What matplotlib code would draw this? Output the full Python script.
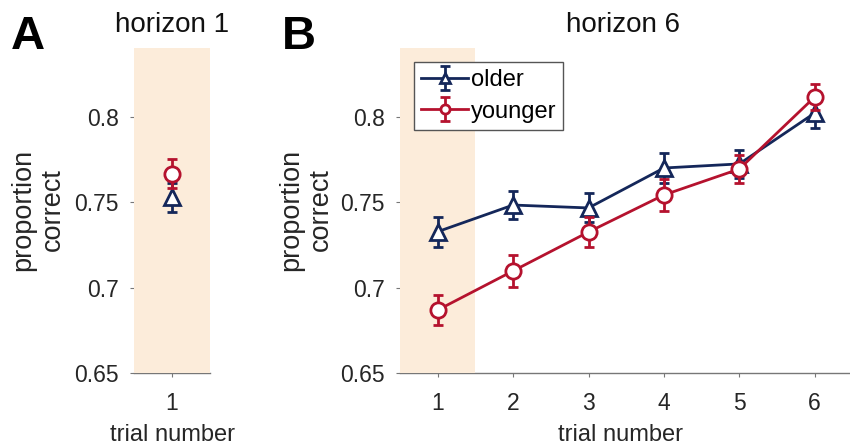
import matplotlib
matplotlib.use("Agg")
import matplotlib.pyplot as plt

plt.rcParams['font.family'] = ['Liberation Sans', 'DejaVu Sans']

# ---- data ----
h1_trials = [1]
h1_older = [0.7531]
h1_older_err = [0.0085]
h1_younger = [0.7666]
h1_younger_err = [0.0085]

h6_trials = [1, 2, 3, 4, 5, 6]
h6_older = [0.7328, 0.7484, 0.7467, 0.7701, 0.7725, 0.8023]
h6_older_err = [0.0088, 0.0082, 0.0085, 0.0085, 0.0080, 0.0086]
h6_younger = [0.6869, 0.7098, 0.7326, 0.7543, 0.7695, 0.8117]
h6_younger_err = [0.0086, 0.0092, 0.0088, 0.0095, 0.0082, 0.0078]

yticks = [0.65, 0.7, 0.75, 0.8]
ytick_labels = ['0.65', '0.7', '0.75', '0.8']

OLDER = '#14275a'
YOUNGER = '#b5122e'
SHADE = '#fcecda'
GRAY = '#555555'

W, H = 850, 448
fig = plt.figure(figsize=(W / 100, H / 100), dpi=100)


def px_axes(left, right, top, bottom):
    return fig.add_axes([left / W, 1 - bottom / H, (right - left) / W, (bottom - top) / H])


def style(ax, xlim, xticks):
    ax.set_ylim(0.65, 0.8404)
    ax.set_xlim(*xlim)
    ax.set_yticks(yticks)
    ax.set_yticklabels(ytick_labels)
    ax.set_xticks(xticks)
    for s in ['top', 'right', 'left']:
        ax.spines[s].set_visible(False)
    ax.spines['bottom'].set_color('#777777')
    ax.spines['bottom'].set_linewidth(1.0)
    ax.spines['bottom'].set_zorder(1)
    ax.tick_params(axis='both', direction='out', length=3, width=0.8, color='#777777',
                   labelsize=16.5, labelcolor='#262626')
    ax.tick_params(axis='x', pad=11)
    ax.tick_params(axis='y', pad=8)
    ax.axvspan(0.5, 1.5, color=SHADE, zorder=2, lw=0)
    ax.patch.set_visible(False)


def draw(ax, x, yo, eo, yy, ey):
    ho = ax.errorbar(x, yo, yerr=eo, color=OLDER, marker='^', ms=11, mfc='white', mew=2,
                     lw=2, capsize=3.5, capthick=2, elinewidth=2, zorder=4, label='older')
    hy = ax.errorbar(x, yy, yerr=ey, color=YOUNGER, marker='o', ms=11, mfc='white', mew=2,
                     lw=2, capsize=3.5, capthick=2, elinewidth=2, zorder=5, label='younger')
    return ho, hy


# Panel A
axA = px_axes(134, 210, 48, 373)
style(axA, (0.5, 1.5), h1_trials)
draw(axA, h1_trials, h1_older, h1_older_err, h1_younger, h1_younger_err)

# Panel B
axB = px_axes(400, 850, 48, 373)
style(axB, (0.5, 0.5 + 450 / 75.4), h6_trials)
ho, hy = draw(axB, h6_trials, h6_older, h6_older_err, h6_younger, h6_younger_err)

leg = fig.legend([ho, hy], ['older', 'younger'], loc='upper left',
                 bbox_to_anchor=(414 / W, 1 - 62 / H), bbox_transform=fig.transFigure,
                 fontsize=17, frameon=True, fancybox=False, borderpad=0.3,
                 handletextpad=0.1, labelspacing=0.4, borderaxespad=0, handlelength=2.0,
                 markerscale=0.6)
leg.get_frame().set_edgecolor(GRAY)
leg.get_frame().set_linewidth(1.0)
leg.get_frame().set_facecolor('white')
leg.get_frame().set_alpha(1)

# Titles
fig.text(172 / W, 1 - 25 / H, 'horizon 1', ha='center', va='center', fontsize=20, color='#111111')
fig.text(623 / W, 1 - 25 / H, 'horizon 6', ha='center', va='center', fontsize=20, color='#111111')

# Panel letters
fig.text(28 / W, 1 - 37 / H, 'A', ha='center', va='center', fontsize=34, fontweight='bold')
fig.text(299 / W, 1 - 37 / H, 'B', ha='center', va='center', fontsize=34, fontweight='bold')

# Y labels
fig.text(38 / W, 1 - 210 / H, 'proportion\ncorrect', ha='center', va='center', rotation=90,
         fontsize=19.5, color='#262626', linespacing=1.15)
fig.text(306 / W, 1 - 210 / H, 'proportion\ncorrect', ha='center', va='center', rotation=90,
         fontsize=19.5, color='#262626', linespacing=1.15)

# X labels
fig.text(172 / W, 1 - 446 / H, 'trial number', ha='center', va='bottom', fontsize=17, color='#262626')
fig.text(620 / W, 1 - 446 / H, 'trial number', ha='center', va='bottom', fontsize=17, color='#262626')

fig.savefig('out.png', dpi=100)
